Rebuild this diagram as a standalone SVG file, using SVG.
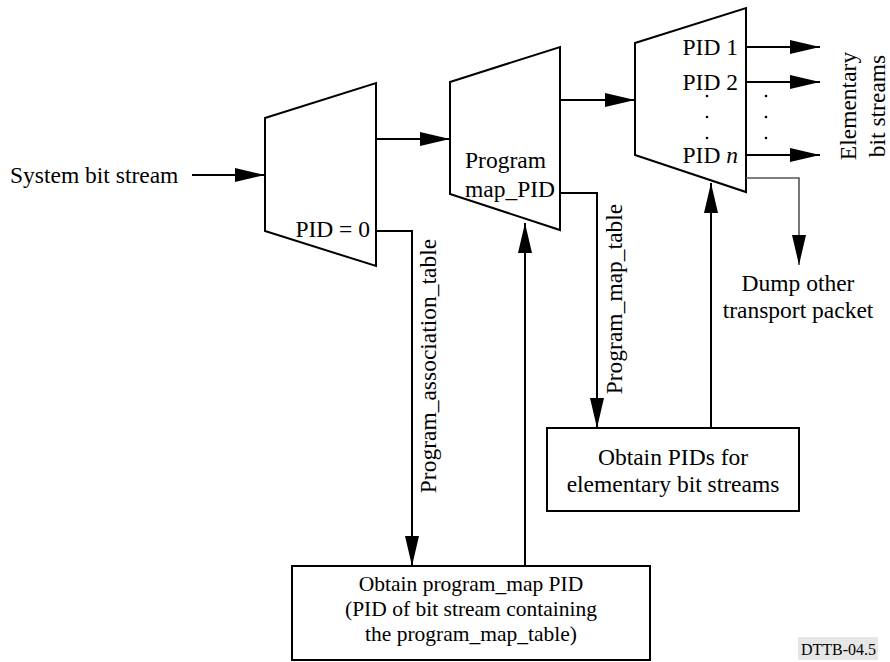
<svg xmlns="http://www.w3.org/2000/svg" width="890" height="662" viewBox="0 0 890 662" font-family="'Liberation Serif', 'Times New Roman', serif">
  <style>
    text { font-family: "Liberation Serif", "Times New Roman", serif; font-size: 23.5px; fill: #000; }
    .shape { fill: #fff; stroke: #000; stroke-width: 2; }
    .wire { fill: none; stroke: #000; stroke-width: 2; }
    .wire-gray { fill: none; stroke: #555; stroke-width: 1.6; }
    .mid { text-anchor: middle; }
    .end { text-anchor: end; }
    .dot { fill: #000; }
    .small { font-size: 21.5px; }
  </style>
  <defs>
    <marker id="arrow" markerUnits="userSpaceOnUse" markerWidth="30" markerHeight="14" refX="30" refY="7" orient="auto" overflow="visible">
      <path d="M0,0 L30,7 L0,14 Z" fill="#000"/>
    </marker>
  </defs>

  <rect width="890" height="662" fill="#fff"/>

  <!-- Input label -->
  <g id="input-label">
    <text x="10" y="183">System bit stream</text>
  </g>

  <!-- Demultiplexer 1: PAT selection -->
  <g id="mux1">
    <polygon class="shape" points="265,118 376,83 376,266 265,231"/>
    <text class="end" x="370" y="237">PID = 0</text>
  </g>

  <!-- Demultiplexer 2: program map selection -->
  <g id="mux2">
    <polygon class="shape" points="450,82 560,47 560,230 450,194"/>
    <text x="465" y="168">Program</text>
    <text x="465" y="197">map_PID</text>
  </g>

  <!-- Demultiplexer 3: elementary stream selection -->
  <g id="mux3">
    <polygon class="shape" points="635,43 746,8 746,192 635,155"/>
    <text class="end" x="738" y="55">PID 1</text>
    <text class="end" x="738" y="90">PID 2</text>
    <text class="end" x="738" y="163">PID <tspan font-style="italic">n</tspan></text>
    <circle class="dot" cx="707" cy="96" r="1.3"/>
    <circle class="dot" cx="707" cy="117" r="1.3"/>
    <circle class="dot" cx="707" cy="138" r="1.3"/>
  </g>

  <!-- Processing boxes -->
  <g id="box-program-map">
    <rect class="shape" x="292" y="566" width="358" height="94"/>
    <text class="mid small" x="471" y="591">Obtain program_map PID</text>
    <text class="mid small" x="471" y="616">(PID of bit stream containing</text>
    <text class="mid small" x="471" y="641">the program_map_table)</text>
  </g>

  <g id="box-elementary-pids">
    <rect class="shape" x="547" y="428" width="252" height="83"/>
    <text class="mid" x="673" y="465">Obtain PIDs for</text>
    <text class="mid" x="673" y="492">elementary bit streams</text>
  </g>

  <!-- Output labels -->
  <g id="output-labels">
    <text class="mid" transform="translate(856,106) rotate(-90)">Elementary</text>
    <text class="mid" transform="translate(885,106) rotate(-90)">bit streams</text>
    <circle class="dot" cx="766" cy="96" r="1.3"/>
    <circle class="dot" cx="766" cy="117" r="1.3"/>
    <circle class="dot" cx="766" cy="138" r="1.3"/>
    <text class="mid" x="798" y="291">Dump other</text>
    <text class="mid" x="798" y="318">transport packet</text>
  </g>

  <!-- Connectors -->
  <g id="connectors">
    <line class="wire" x1="192" y1="175" x2="265" y2="175" marker-end="url(#arrow)"/>
    <line class="wire" x1="376" y1="139" x2="450" y2="139" marker-end="url(#arrow)"/>
    <line class="wire" x1="560" y1="100" x2="635" y2="100" marker-end="url(#arrow)"/>
    <line class="wire" x1="746" y1="47" x2="820" y2="47" marker-end="url(#arrow)"/>
    <line class="wire" x1="746" y1="82" x2="820" y2="82" marker-end="url(#arrow)"/>
    <line class="wire" x1="746" y1="155" x2="820" y2="155" marker-end="url(#arrow)"/>
    <polyline class="wire-gray" points="746,178 799,178 799,265" marker-end="url(#arrow)"/>
    <polyline class="wire" points="376,231 412,231 412,566" marker-end="url(#arrow)"/>
    <line class="wire" x1="525" y1="566" x2="525" y2="223" marker-end="url(#arrow)"/>
    <polyline class="wire" points="560,193 597,193 597,428" marker-end="url(#arrow)"/>
    <line class="wire" x1="711" y1="428" x2="711" y2="183" marker-end="url(#arrow)"/>
    <text transform="translate(436,366) rotate(-90)" class="mid">Program_association_table</text>
    <text transform="translate(622,299) rotate(-90)" class="mid">Program_map_table</text>
  </g>

  <!-- Figure reference tag -->
  <g id="figure-tag">
    <rect x="798" y="637" width="80" height="23" fill="#e6e6e6"/>
    <text x="801" y="655" style="font-size:16px">DTTB-04.5</text>
  </g>
</svg>
